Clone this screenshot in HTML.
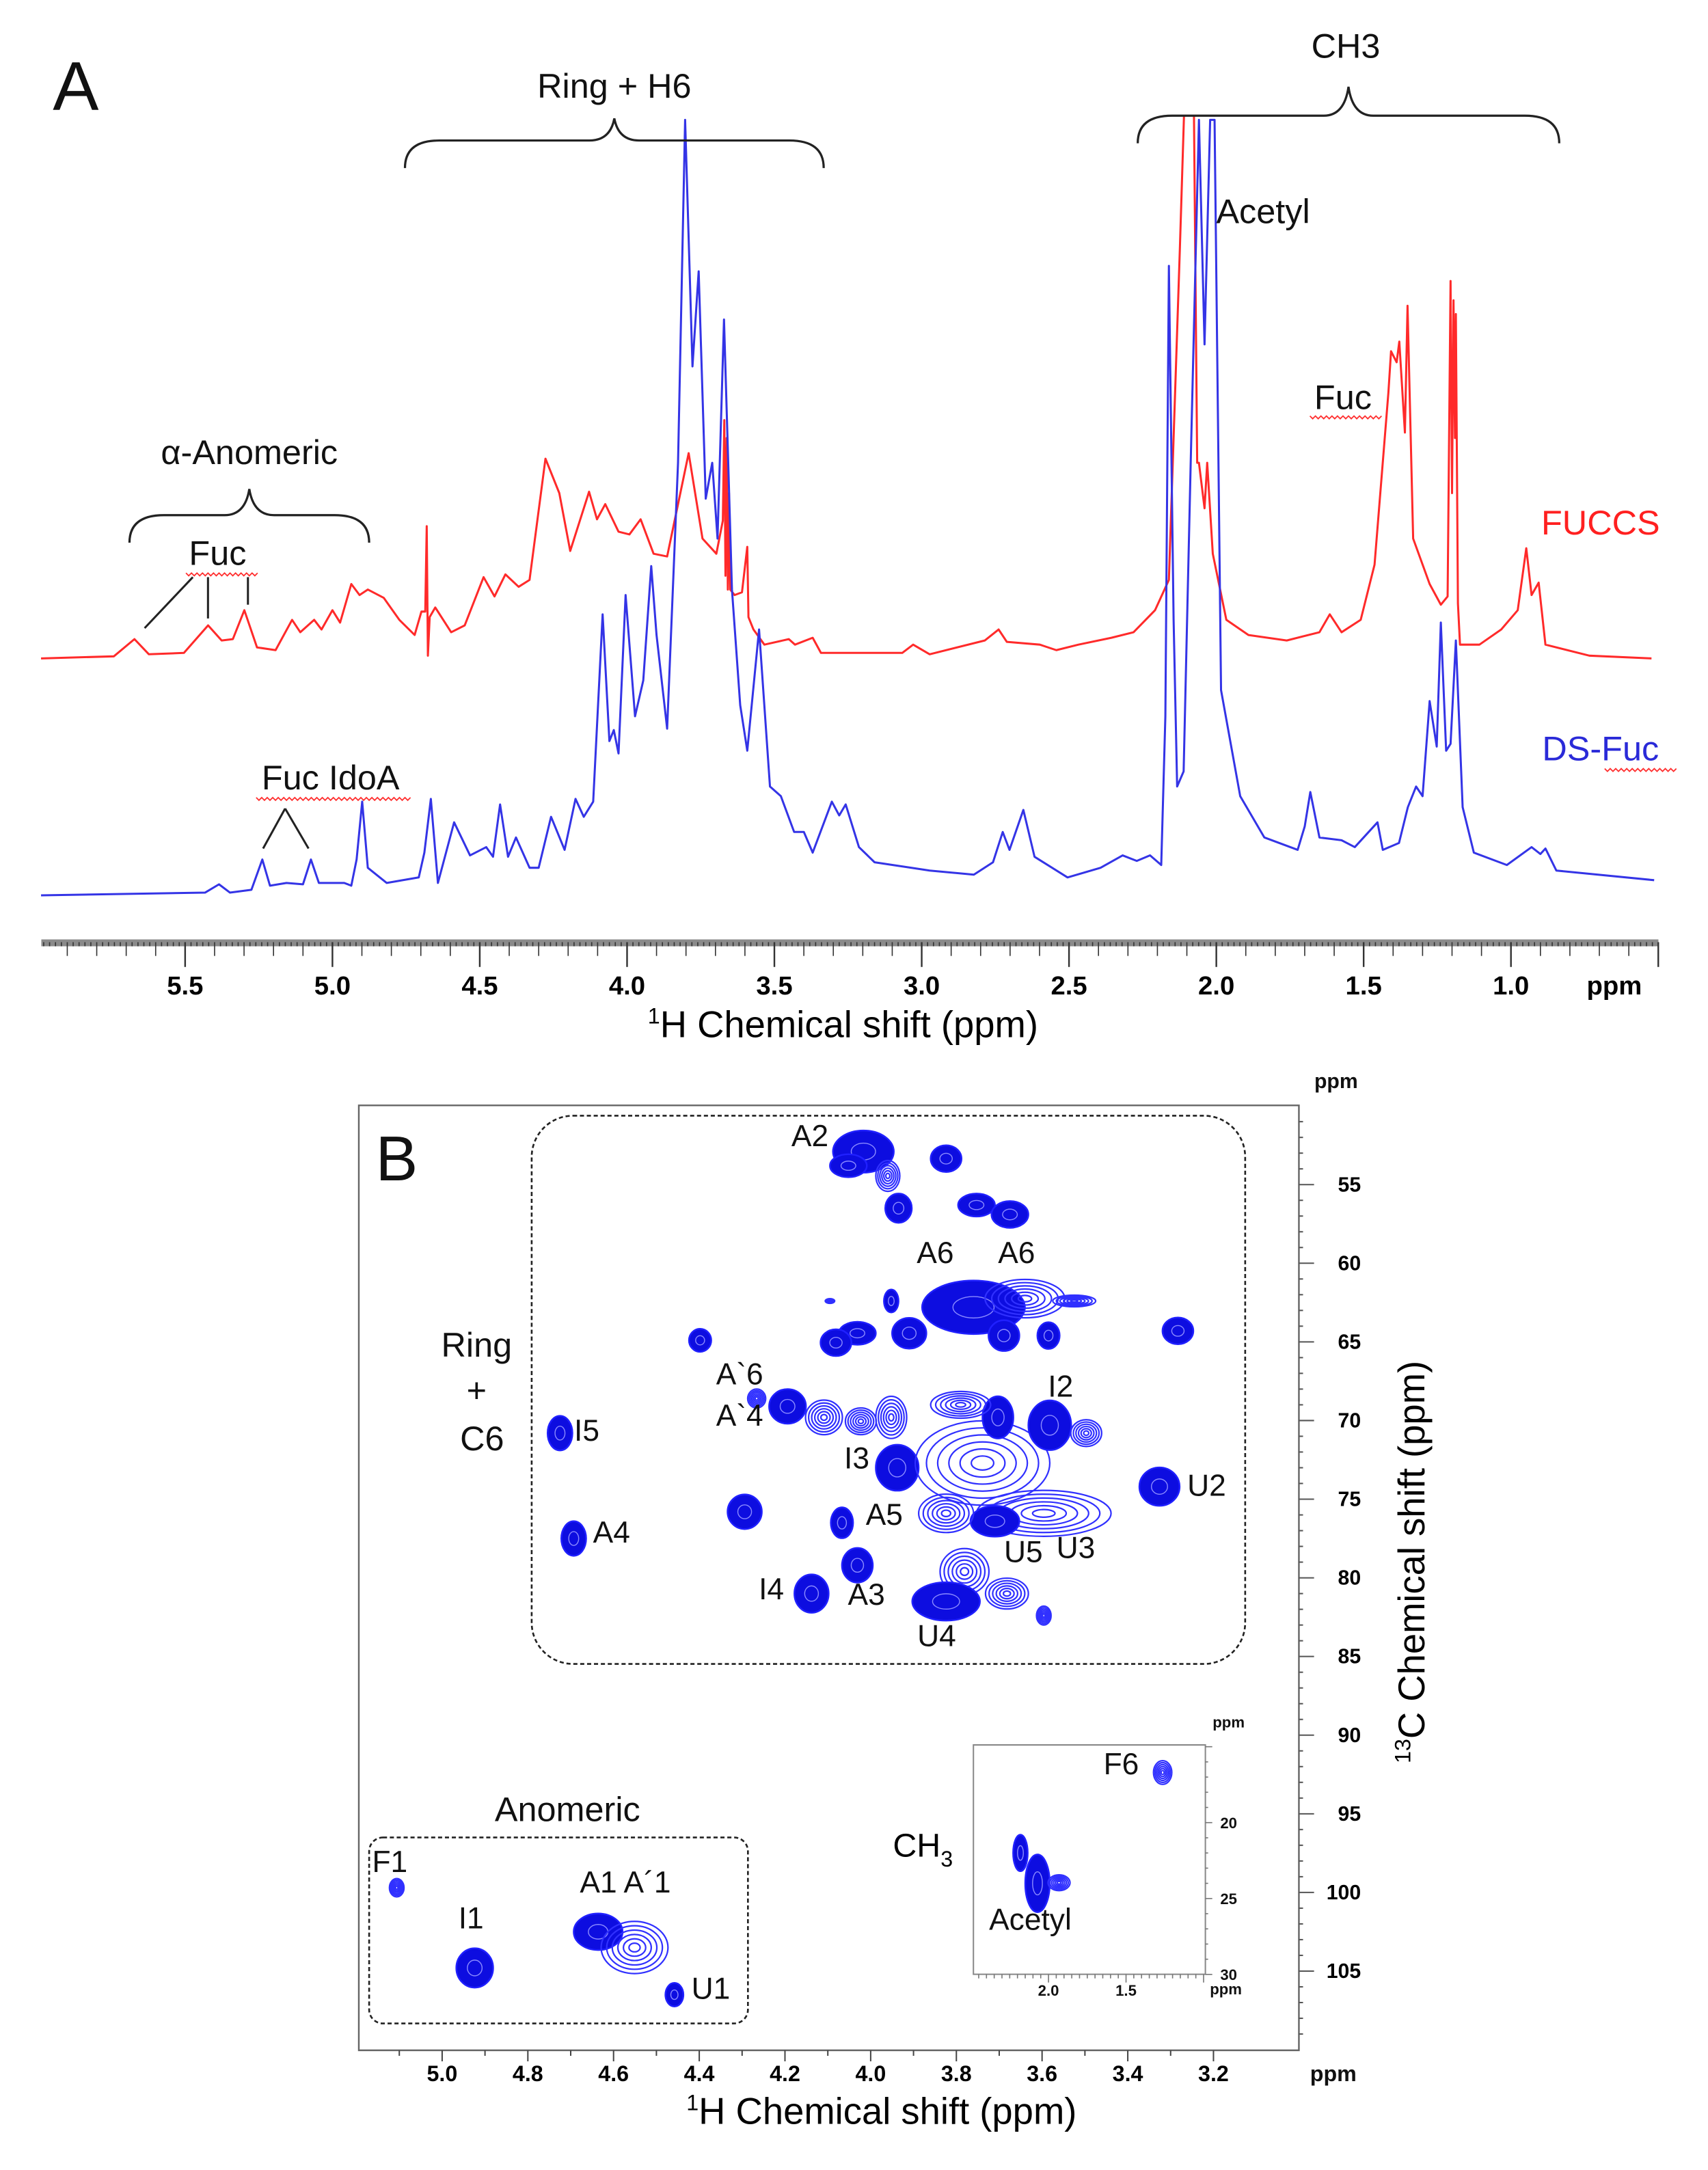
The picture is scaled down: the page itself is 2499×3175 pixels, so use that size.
<!DOCTYPE html>
<html><head><meta charset="utf-8"><style>
html,body{margin:0;padding:0;background:#fff}
svg{display:block}
text{font-family:"Liberation Sans",Arial,sans-serif}
</style></head><body>
<svg id="fig" xmlns="http://www.w3.org/2000/svg" width="2499" height="3175" viewBox="0 0 1240 1575.4" preserveAspectRatio="none">
<rect x="0" y="0" width="1240" height="1576" fill="#fff"/>
<defs><clipPath id="clipA"><rect x="0" y="84" width="1240" height="620"/></clipPath></defs>
<g id="panelA"></g>
<g id="panelB"></g>
</svg>
<script>
// ---------- Panel A data (ppm, intensity) ----------
const fuccsPpm = [5.989,5.742,5.672,5.623,5.504,5.422,5.376,5.338,5.299,5.256,5.193,5.137,5.109,5.062,5.037,5.000,4.974,4.936,4.908,4.880,4.826,4.773,4.721,4.698,4.685,4.680,4.676,4.670,4.651,4.597,4.551,4.487,4.450,4.413,4.368,4.331,4.277,4.230,4.193,4.129,4.102,4.074,4.029,3.992,3.954,3.910,3.864,3.791,3.744,3.697,3.675,3.670,3.666,3.662,3.658,3.654,3.650,3.635,3.610,3.592,3.588,3.571,3.534,3.451,3.430,3.370,3.342,3.162,3.066,3.029,2.973,2.786,2.739,2.711,2.599,2.543,2.468,2.356,2.281,2.208,2.161,2.124,2.106,2.090,2.077,2.065,2.059,2.040,2.031,2.012,1.966,1.891,1.761,1.650,1.615,1.575,1.510,1.463,1.416,1.407,1.388,1.379,1.360,1.351,1.332,1.276,1.238,1.215,1.205,1.200,1.195,1.190,1.187,1.180,1.173,1.107,1.033,0.977,0.948,0.930,0.906,0.883,0.734,0.523];
const fuccsInt = [0,1.5,14,3,4,24,13,14,35,8,6,28,19,28,21,35,26,54,46,50,44,28,17,34,34,96,2,30,37,19,24,59,45,61,52,57,145,120,78,121,101,112,92,90,101,76,74,149,87,76,100,173,60,160,50,120,50,46,48,81,30,21,10,14,10,15,4,4,4,10,3,13,21,12,10,6,10,15,19,35,57,296,420,420,420,142,142,109,142,76,28,17,13,19,32,19,28,68,193,223,215,230,164,256,87,54,39,45,274,120,260,160,250,40,10,10,21,35,80,46,55,10,2,0];
const dsfucPpm = [5.989,5.432,5.385,5.348,5.275,5.238,5.212,5.156,5.100,5.073,5.046,4.960,4.936,4.918,4.899,4.880,4.816,4.707,4.688,4.666,4.642,4.587,4.533,4.478,4.455,4.431,4.404,4.377,4.331,4.300,4.258,4.212,4.175,4.147,4.115,4.083,4.060,4.045,4.029,4.005,3.973,3.945,3.918,3.900,3.864,3.827,3.803,3.778,3.757,3.733,3.711,3.693,3.671,3.644,3.616,3.592,3.552,3.515,3.478,3.433,3.400,3.370,3.305,3.280,3.258,3.213,3.160,2.973,2.823,2.758,2.725,2.702,2.655,2.617,2.505,2.393,2.318,2.270,2.225,2.187,2.173,2.161,2.145,2.133,2.111,2.087,2.059,2.040,2.021,2.006,1.984,1.919,1.837,1.724,1.700,1.681,1.650,1.575,1.530,1.453,1.435,1.380,1.350,1.322,1.300,1.276,1.252,1.238,1.220,1.205,1.187,1.164,1.126,1.014,0.930,0.900,0.883,0.846,0.514];
const dsfucInt = [0,2,8,2,4,26,7,9,8,26,9,9,7,26,68,20,9,13,31,70,9,53,29,35,28,66,28,42,20,20,57,33,70,57,68,204,112,120,103,218,130,156,239,189,121,314,563,384,453,288,314,259,418,222,138,105,193,79,72,46,46,31,68,58,66,35,24,18,15,24,46,33,62,28,13,20,29,25,29,22,130,457,200,79,90,314,563,400,563,563,149,72,42,33,50,75,42,40,35,53,33,38,64,79,72,141,108,198,105,110,185,64,31,22,35,30,34,18,11];
const axisATicks = ["5.5","5.0","4.5","4.0","3.5","3.0","2.5","2.0","1.5","1.0"];

// ---------- Panel B data ----------
const spotLabels = ["A2","A2b","A2c","s3.82","s3.93","s3.75","s3.67","A6a","A6b","A6tail","s3.69","s3.58","s3.91","s3.95","s4.03","s4.08","dot4.10","s4.40","s3.28","A'4","A'6","s4.11","s4.02","s3.95b","I3","core","s3.70","I2","s3.50","s3.79","U2","U3","U5","s3.82b","s3.78","U4","s3.68","s3.60","s4.29","A5","A3","I4","I5","A4","F1","I1","A1","A'1","U1"];
const spotH = [4.017,4.052,3.960,3.824,3.935,3.753,3.675,3.760,3.640,3.525,3.689,3.585,3.910,3.952,4.031,4.081,4.095,4.398,3.283,4.194,4.266,4.109,4.023,3.952,3.938,3.739,3.703,3.582,3.497,3.79,3.326,3.596,3.710,3.824,3.781,3.824,3.682,3.596,4.294,4.067,4.031,4.138,4.725,4.693,5.106,4.924,4.636,4.551,4.458];
const spotC = [52.9,53.8,54.45,53.35,56.5,56.3,56.9,62.8,62.25,62.4,64.6,64.6,64.45,62.4,64.45,65.05,62.4,64.9,64.3,69.1,68.6,69.8,70.05,69.8,73.0,72.7,69.8,70.3,70.8,69.0,74.2,75.9,76.4,75.9,79.6,81.5,81.0,82.4,75.8,76.5,79.2,81.0,70.8,77.5,99.7,104.8,102.5,103.5,106.5];
const spotRH = [0.071,0.043,0.028,0.036,0.031,0.043,0.043,0.12,0.093,0.05,0.036,0.026,0.040,0.017,0.043,0.036,0.011,0.026,0.036,0.043,0.021,0.043,0.036,0.036,0.05,0.157,0.036,0.05,0.036,0.07,0.047,0.157,0.057,0.064,0.057,0.079,0.05,0.017,0.04,0.026,0.036,0.04,0.029,0.029,0.017,0.043,0.057,0.078,0.021];
const spotRC = [1.34,0.73,0.98,0.85,0.93,0.73,0.85,1.7,1.22,0.37,0.98,0.85,0.98,0.73,0.73,0.85,0.15,0.73,0.85,1.1,0.6,1.1,0.85,1.34,1.46,2.68,1.34,1.58,0.85,0.85,1.22,1.46,0.98,1.22,1.46,1.22,0.98,0.6,1.1,0.98,1.1,1.22,1.1,1.1,0.58,1.25,1.16,1.66,0.75];
const spotFilled = [1,1,0,1,1,1,1,1,0,0,1,1,1,1,1,1,0,1,1,1,0,0,0,0,1,0,1,1,0,0,1,0,1,0,0,1,0,0,1,1,1,1,1,1,0,1,1,0,1];
const axisBX = ["5.0","4.8","4.6","4.4","4.2","4.0","3.8","3.6","3.4","3.2"];
const axisBY = ["55","60","65","70","75","80","85","90","95","100","105"];
const insetLabels = ["F6","acetyl-a","acetyl-b","acetyl-c"];
const insetH = [1.264,2.181,2.071,1.932];
const insetC = [16.7,22.0,24.0,23.96];
const insetRH = [0.059,0.047,0.079,0.071];
const insetRC = [0.78,1.2,1.9,0.52];
const insetFilled = [0,1,1,0];

const NS = "http://www.w3.org/2000/svg";
function mk(parent, tag, attrs, txt){
  const e = document.createElementNS(NS, tag);
  for (const k in attrs) e.setAttribute(k, attrs[k]);
  if (txt !== undefined) e.textContent = txt;
  parent.appendChild(e);
  return e;
}
const A = document.getElementById('panelA');
const B = document.getElementById('panelB');

const xA = p => 134.4 + (5.5 - p) * 213.9;
const redBase = 478, blueBase = 650;
const yRed = v => redBase - v;
const yBlue = v => blueBase - v;

function trace(ppm, ints, yf, color, name){
  let d = "";
  for (let i = 0; i < ppm.length; i++) d += (i ? "L" : "M") + xA(ppm[i]).toFixed(2) + " " + yf(ints[i]).toFixed(2);
  const p = mk(A, 'path', {d: d, fill: 'none', stroke: color, 'stroke-width': 1.5, 'stroke-linejoin': 'round', 'clip-path': 'url(#clipA)'});
  
  
}
trace(fuccsPpm, fuccsInt, yRed, '#ff2a2a', 'fuccs-trace');
trace(dsfucPpm, dsfucInt, yBlue, '#3434e6', 'ds-fuc-trace');

const axA = mk(A, 'g', {});


mk(axA, 'rect', {x: 30, y: 682, width: 1174, height: 5, fill: '#8a8a8a'});
for (let i = 0; i <= 550; i++) {
  const p = 6.0 - i * 0.01;
  const x = xA(p);
  if (x < 30 || x > 1205) continue;
  const r = Math.round(p * 100);
  let len = 0;
  if (r % 50 === 0) len = 18; else if (r % 10 === 0) len = 10; else if (r % 2 === 0) len = 3;
  if (len) mk(axA, 'line', {x1: x, y1: 684, x2: x, y2: 684 + len, stroke: '#333', 'stroke-width': r % 50 === 0 ? 1.2 : 0.8});
}
axisATicks.forEach(t => {
  const tx = mk(axA, 'text', {x: xA(parseFloat(t)), y: 722, 'font-size': 19, 'font-weight': 'bold', 'text-anchor': 'middle'}, t);
  
  
});
const ppmA = mk(axA, 'text', {x: 1172, y: 722, 'font-size': 19, 'font-weight': 'bold', 'text-anchor': 'middle'}, 'ppm');


const titA = mk(axA, 'text', {x: 612, y: 753, 'font-size': 27, 'text-anchor': 'middle'});


mk(titA, 'tspan', {'font-size': 16, dy: -10}, '1');
mk(titA, 'tspan', {dy: 10}, 'H Chemical shift (ppm)');

function brace(x1, x2, y, tip, name){
  const m = (x1 + x2) / 2;
  const d = `M${x1} ${y+20} Q${x1} ${y} ${x1+25} ${y} L${m-18} ${y} Q${m-3} ${y} ${m} ${tip} Q${m+3} ${y} ${m+18} ${y} L${x2-25} ${y} Q${x2} ${y} ${x2} ${y+20}`;
  const p = mk(A, 'path', {d: d, fill: 'none', stroke: '#222', 'stroke-width': 1.6});
  
  
}
brace(294, 598, 102, 86, 'ring-h6-brace');
brace(826, 1132, 84, 63, 'ch3-brace');
brace(94, 268, 374, 355, 'anomeric-brace');

function label(parent, x, y, s, size, name, color, anchor){
  const t = mk(parent, 'text', {x: x, y: y, 'font-size': size, fill: color || '#111', 'text-anchor': anchor || 'middle'}, s);
  
  
  return t;
}
function wavy(x1, x2, y){
  let d = `M${x1} ${y}`;
  for (let x = x1; x < x2; x += 4) d += `L${x+2} ${y+2}L${x+4} ${y}`;
  const p = mk(A, 'path', {d: d, fill: 'none', stroke: '#ff3030', 'stroke-width': 0.9});
  
  
}
label(A, 55, 80, 'A', 50, 'panel-a-letter');
label(A, 446, 71, 'Ring + H6', 25, 'ring-h6-label');
label(A, 977, 42, 'CH3', 25, 'ch3-label');
label(A, 917, 162, 'Acetyl', 25, 'acetyl-label');
label(A, 181, 337, 'α-Anomeric', 25, 'alpha-anomeric-label');
label(A, 158, 410, 'Fuc', 25, 'fuc-anomeric-label'); wavy(135, 184, 416);
label(A, 975, 297, 'Fuc', 25, 'fuc-ch3-label'); wavy(951, 1000, 302);
label(A, 1162, 388, 'FUCCS', 25, 'fuccs-legend', '#ff2020');
label(A, 1162, 552, 'DS-Fuc', 25, 'ds-fuc-legend', '#2a2ad8'); wavy(1165, 1215, 558);
label(A, 240, 573, 'Fuc IdoA', 25, 'fuc-idoa-label'); wavy(186, 297, 579);
[[105,456,140,419],[151,419,151,449],[180,419,180,439],[207,587,191,616],[207,587,224,616]].forEach(l => {
  const ln = mk(A, 'line', {x1: l[0], y1: l[1], x2: l[2], y2: l[3], stroke: '#222', 'stroke-width': 1.5});
  
  
});

// ---------- Panel B ----------
const xB = p => 321 + (5.0 - p) * 311.1;
const yB = c => 860 + (c - 55) * 11.42;
const frame = mk(B, 'path', {d: 'M260.5 802.5 L943 802.5 L943 1488.5 L260.5 1488.5 Z', fill: 'none', stroke: '#666', 'stroke-width': 1.2});


const r1 = mk(B, 'rect', {x: 386, y: 810, width: 518, height: 398, rx: 30, fill: 'none', stroke: '#222', 'stroke-width': 1.3, 'stroke-dasharray': '3 2'});


const r2 = mk(B, 'rect', {x: 268, y: 1334, width: 275, height: 135, rx: 10, fill: 'none', stroke: '#222', 'stroke-width': 1.3, 'stroke-dasharray': '3 2'});



function spot(parent, cx, cy, rx, ry, filled, name){
  const g = mk(parent, 'g', {});
  
  
  if (filled) {
    mk(g, 'ellipse', {cx: cx, cy: cy, rx: rx, ry: ry, fill: '#0d0de0', stroke: '#2020ff', 'stroke-width': 1.2});
    mk(g, 'ellipse', {cx: cx, cy: cy, rx: rx * 0.4, ry: ry * 0.4, fill: 'none', stroke: '#8a8aff', 'stroke-width': 0.7});
  } else {
    for (let k = 1; k <= 6; k++) {
      const f = k / 6;
      mk(g, 'ellipse', {cx: cx, cy: cy, rx: rx * f, ry: ry * f, fill: 'none', stroke: '#3030ff', 'stroke-width': 1.1});
    }
  }
}
for (let i = 0; i < spotH.length; i++) {
  spot(B, xB(spotH[i]), yB(spotC[i]), spotRH[i] * 311.1, spotRC[i] * 11.42, spotFilled[i], 'cross-peak-' + spotLabels[i].toLowerCase().replace(/[^a-z0-9.]/g, ''));
}

const axBx = mk(B, 'g', {});


for (let i = 0; i <= 20; i++) {
  const p = 5.2 - i * 0.1;
  const x = xB(p);
  if (x < 261 || x > 943) continue;
  const major = Math.round(p * 10) % 2 === 0;
  mk(axBx, 'line', {x1: x, y1: 1488.5, x2: x, y2: 1488.5 + (major ? 8 : 4), stroke: '#444', 'stroke-width': 1});
}
axisBX.forEach(t => {
  const tx = mk(axBx, 'text', {x: xB(parseFloat(t)), y: 1511, 'font-size': 16, 'font-weight': 'bold', 'text-anchor': 'middle'}, t);
  
  
});
label(axBx, 968, 1511, 'ppm', 16, 'x-axis-unit-b').setAttribute('font-weight', 'bold');
const titB = mk(axBx, 'text', {x: 640, y: 1542, 'font-size': 27, 'text-anchor': 'middle'});


mk(titB, 'tspan', {'font-size': 16, dy: -10}, '1');
mk(titB, 'tspan', {dy: 10}, 'H Chemical shift (ppm)');

const axBy = mk(B, 'g', {});


for (let c = 50; c <= 110; c++) {
  const y = yB(c);
  if (y < 803 || y > 1488) continue;
  const major = c % 5 === 0;
  mk(axBy, 'line', {x1: 943, y1: y, x2: 943 + (major ? 11 : 3), y2: y, stroke: '#555', 'stroke-width': 1});
}
axisBY.forEach(t => {
  const tx = mk(axBy, 'text', {x: 988, y: yB(parseFloat(t)) + 5, 'font-size': 15, 'font-weight': 'bold', 'text-anchor': 'end'}, t);
  
  
});
label(axBy, 970, 790, 'ppm', 15, 'y-axis-unit-b').setAttribute('font-weight', 'bold');
const titY = mk(axBy, 'text', {x: 0, y: 0, 'font-size': 27, 'text-anchor': 'middle', transform: 'translate(1034 1134) rotate(-90)'});


mk(titY, 'tspan', {'font-size': 16, dy: -10}, '13');
mk(titY, 'tspan', {dy: 10}, 'C Chemical shift (ppm)');

const ins = mk(B, 'g', {});


const xI = p => 761.2 + (2.0 - p) * 112.6;
const yI = c => 1323.2 + (c - 20) * 11.02;
mk(ins, 'path', {d: 'M706.7 1433.3 L706.7 1266.8 L875.1 1266.8 L875.1 1433.3 Z', fill: 'none', stroke: '#888', 'stroke-width': 1});
for (let i = 0; i <= 30; i++) {
  const p = 2.5 - i * 0.05;
  const x = xI(p);
  if (x < 707 || x > 875) continue;
  const maj = Math.abs(p * 2 - Math.round(p * 2)) < 1e-6;
  mk(ins, 'line', {x1: x, y1: 1433.3, x2: x, y2: 1433.3 + (maj ? 6 : 3), stroke: '#777', 'stroke-width': 0.8});
}
for (let c = 15; c <= 30; c++) {
  const y = yI(c);
  mk(ins, 'line', {x1: 875.1, y1: y, x2: 875.1 + (c % 5 === 0 ? 5 : 2), y2: y, stroke: '#777', 'stroke-width': 0.8});
}
[["2.0",xI(2.0),1449],["1.5",xI(1.5),1449]].forEach(a => label(ins, a[1], a[2], a[0], 11, 'inset-x-tick-label').setAttribute('font-weight', 'bold'));
[["20",20],["25",25],["30",30]].forEach(a => label(ins, 892, yI(a[1]) + 4, a[0], 11, 'inset-y-tick-label').setAttribute('font-weight', 'bold'));
label(ins, 892, 1254, 'ppm', 11, 'inset-y-unit').setAttribute('font-weight', 'bold');
label(ins, 890, 1448, 'ppm', 11, 'inset-x-unit').setAttribute('font-weight', 'bold');
for (let i = 0; i < insetH.length; i++) {
  spot(ins, xI(insetH[i]), yI(insetC[i]), insetRH[i] * 112.6, insetRC[i] * 11.02, insetFilled[i], 'inset-peak-' + insetLabels[i]);
}

label(B, 288, 857, 'B', 46, 'panel-b-letter');
label(B, 346, 985, 'Ring', 25, 'ring-label');
label(B, 346, 1018, '+', 25, 'plus-label');
label(B, 350, 1053, 'C6', 25, 'c6-label');
label(B, 412, 1322, 'Anomeric', 25, 'anomeric-label');
const pl = [["A2",588,832],["A6",679,917],["A6",738,917],["A`6",537,1005],["A`4",537,1035],["I2",770,1014],["I5",426,1046],["I3",622,1066],["U2",876,1086],["A5",642,1107],["A4",444,1120],["U5",743,1134],["U3",781,1131],["I4",560,1161],["A3",629,1165],["U4",680,1195],["F1",283,1359],["I1",342,1400],["A1 A´1",454,1374],["U1",516,1451],["F6",814,1288],["Acetyl",748,1401]];
pl.forEach(a => label(B, a[1], a[2], a[0], 22, 'peak-label-' + a[0].toLowerCase().replace(/[^a-z0-9]/g, '')));
const ch3 = mk(B, 'text', {x: 670, y: 1348, 'font-size': 24, 'text-anchor': 'middle'});


mk(ch3, 'tspan', {}, 'CH');
mk(ch3, 'tspan', {'font-size': 16, dy: 7}, '3');
</script>
</body></html>
